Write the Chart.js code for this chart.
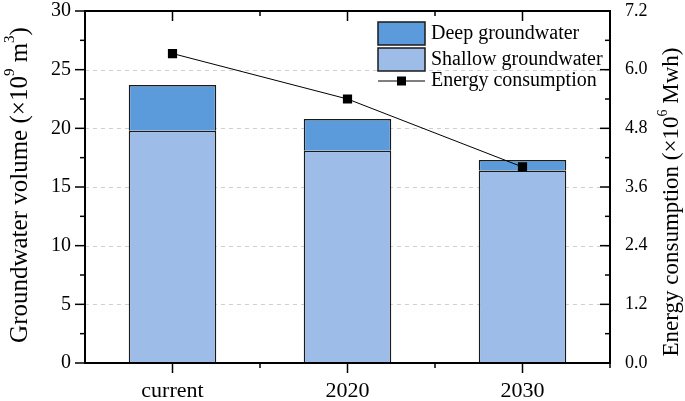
<!DOCTYPE html>
<html>
<head>
<meta charset="utf-8">
<script src="https://cdn.jsdelivr.net/npm/chart.js@4.4.1/dist/chart.umd.min.js"></script>
<style>
  body { margin: 0; background: #fff; }
  #wrap { width: 685px; height: 401px; }
</style>
</head>
<body>
<div id="wrap"><canvas id="groundwaterChart" width="685" height="401"></canvas></div>
<script>
const categories = ["current", "2020", "2030"];
const shallowVolume = [19.8, 18.1, 16.4];
const deepVolume = [3.9, 2.7, 0.9];
const energyUse = [6.33, 5.4, 4.01];
const volumeTicks = [0, 5, 10, 15, 20, 25, 30];
const energyTicks = [0, 1.2, 2.4, 3.6, 4.8, 6.0, 7.2];

const SERIF = "'Liberation Serif', 'Times New Roman', serif";
const shallowColor = "#9dbde8";
const deepColor = "#5b9bdb";

// draws a rotated title with real superscripts
function drawRichTitle(ctx, parts, cx, cy, size) {
  const supSize = Math.round(size * 0.6);
  let total = 0;
  parts.forEach((p) => {
    ctx.font = (p.sup ? supSize : size) + "px " + SERIF;
    p.w = ctx.measureText(p.t).width;
    total += p.w;
  });
  ctx.save();
  ctx.translate(cx, cy);
  ctx.rotate(-Math.PI / 2);
  ctx.fillStyle = "#000";
  ctx.textBaseline = "middle";
  let x = -total / 2;
  parts.forEach((p) => {
    ctx.font = (p.sup ? supSize : size) + "px " + SERIF;
    ctx.fillText(p.t, x, p.sup ? -size * 0.38 : 0);
    x += p.w;
  });
  ctx.restore();
}

const axisPlugin = {
  id: "originAxes",
  beforeDatasetsDraw(chart) {
    const { ctx, chartArea: a, scales } = chart;
    ctx.save();
    ctx.strokeStyle = "#cfcfcf";
    ctx.lineWidth = 1;
    ctx.setLineDash([4, 4]);
    volumeTicks.slice(1, -1).forEach((v) => {
      const py = Math.round(scales.y.getPixelForValue(v)) + 0.5;
      ctx.beginPath();
      ctx.moveTo(a.left, py);
      ctx.lineTo(a.right, py);
      ctx.stroke();
    });
    ctx.restore();
  },
  afterDatasetsDraw(chart) {
    const { ctx, chartArea: a, scales } = chart;
    ctx.save();
    ctx.strokeStyle = "#000";
    ctx.lineWidth = 2;
    ctx.strokeRect(a.left, a.top, a.right - a.left, a.bottom - a.top);
    ctx.lineWidth = 1.5;
    const seg = (x1, y1, x2, y2) => {
      ctx.beginPath();
      ctx.moveTo(x1, y1);
      ctx.lineTo(x2, y2);
      ctx.stroke();
    };
    // left ticks outward, right ticks inward
    for (let i = 0; i < volumeTicks.length; i++) {
      const py = scales.y.getPixelForValue(volumeTicks[i]);
      seg(a.left - 10, py, a.left, py);
      if (i < volumeTicks.length - 1) {
        const pm = scales.y.getPixelForValue((volumeTicks[i] + volumeTicks[i + 1]) / 2);
        seg(a.left - 5, pm, a.left, pm);
      }
    }
    for (let i = 0; i < energyTicks.length; i++) {
      const py = scales.y1.getPixelForValue(energyTicks[i]);
      seg(a.right - 10, py, a.right, py);
      if (i < energyTicks.length - 1) {
        const pm = scales.y1.getPixelForValue((energyTicks[i] + energyTicks[i + 1]) / 2);
        seg(a.right - 5, pm, a.right, pm);
      }
    }
    // bottom ticks outward, top ticks inward
    const step = (a.right - a.left) / categories.length;
    categories.forEach((c, i) => {
      const px = scales.x.getPixelForValue(i);
      seg(px, a.bottom, px, a.bottom + 10);
      seg(px, a.top, px, a.top + 10);
      const bx = px + step / 2;
      seg(bx, a.bottom, bx, a.bottom + 5);
      seg(bx, a.top, bx, a.top + 5);
    });
    ctx.restore();
  },
  afterDraw(chart) {
    const { ctx, chartArea: a } = chart;
    // legend
    const lx = a.right - 232;
    const ds = chart.data.datasets;
    ctx.save();
    ctx.font = "20px " + SERIF;
    ctx.textBaseline = "middle";
    ctx.fillStyle = "#000";
    [ds[1], ds[0]].forEach((d, i) => {
      const ty = a.top + 11 + i * 26;
      ctx.fillStyle = d.backgroundColor;
      ctx.fillRect(lx, ty, 47, 23);
      ctx.strokeStyle = "#1a1a1a";
      ctx.lineWidth = 1.5;
      ctx.strokeRect(lx, ty, 47, 23);
      ctx.fillStyle = "#000";
      ctx.fillText(d.label, lx + 53, ty + 12);
    });
    const ly = a.top + 70;
    ctx.strokeStyle = "#000";
    ctx.lineWidth = 1;
    ctx.beginPath();
    ctx.moveTo(lx, ly);
    ctx.lineTo(lx + 47, ly);
    ctx.stroke();
    ctx.fillRect(lx + 19, ly - 4.5, 9, 9);
    ctx.fillText(ds[2].label, lx + 53, ly);
    ctx.restore();

    const cy = (a.top + a.bottom) / 2;
    drawRichTitle(ctx, [
      { t: "Groundwater volume (×10" }, { t: "9", sup: true },
      { t: " m" }, { t: "3", sup: true }, { t: ")" },
    ], 20, cy - 2, 25);
    drawRichTitle(ctx, [
      { t: "Energy consumption (×10" }, { t: "6", sup: true },
      { t: " Mwh)" },
    ], 672, cy + 15, 23);
  },
};

new Chart(document.getElementById("groundwaterChart"), {
  type: "bar",
  data: {
    labels: categories,
    datasets: [
      {
        label: "Shallow groundwater",
        data: shallowVolume,
        backgroundColor: shallowColor,
        borderColor: "#1a1a1a",
        borderWidth: 1.5,
        yAxisID: "y",
        order: 1,
        barPercentage: 0.5,
        categoryPercentage: 1,
      },
      {
        label: "Deep groundwater",
        data: deepVolume,
        backgroundColor: deepColor,
        borderColor: "#1a1a1a",
        borderWidth: 1.5,
        yAxisID: "y",
        order: 1,
        barPercentage: 0.5,
        categoryPercentage: 1,
      },
      {
        type: "line",
        label: "Energy consumption",
        data: energyUse,
        yAxisID: "y1",
        borderColor: "#000",
        borderWidth: 1,
        backgroundColor: "#000",
        pointStyle: "rect",
        pointRadius: 6.5,
        pointBorderWidth: 0,
        tension: 0,
        order: 0,
      },
    ],
  },
  options: {
    responsive: false,
    animation: false,
    layout: { padding: { top: 11, left: 0, right: 0, bottom: 0 } },
    plugins: {
      legend: { display: false },
      tooltip: { enabled: false },
    },
    scales: {
      x: {
        stacked: true,
        offset: true,
        grid: { display: false },
        border: { display: false },
        ticks: { font: { family: SERIF, size: 22 }, color: "#000", padding: 7 },
        afterFit: (s) => { s.height = 38; s.paddingLeft = 0; s.paddingRight = 0; },
      },
      y: {
        stacked: true,
        min: 0,
        max: 30,
        grid: { display: false },
        border: { display: false },
        afterBuildTicks: (s) => { s.ticks = volumeTicks.map((v) => ({ value: v })); },
        ticks: { font: { family: SERIF, size: 20 }, color: "#000", padding: 6 },
        afterFit: (s) => { s.width = 85; s.paddingTop = 0; s.paddingBottom = 0; },
      },
      y1: {
        position: "right",
        min: 0,
        max: 7.2,
        grid: { display: false },
        border: { display: false },
        afterBuildTicks: (s) => { s.ticks = energyTicks.map((v) => ({ value: v })); },
        ticks: {
          font: { family: SERIF, size: 18 },
          color: "#000",
          padding: 7,
          callback: (v) => Number(v).toFixed(1),
        },
        afterFit: (s) => { s.width = 75; s.paddingTop = 0; s.paddingBottom = 0; },
      },
    },
  },
  plugins: [axisPlugin],
});
</script>
</body>
</html>
